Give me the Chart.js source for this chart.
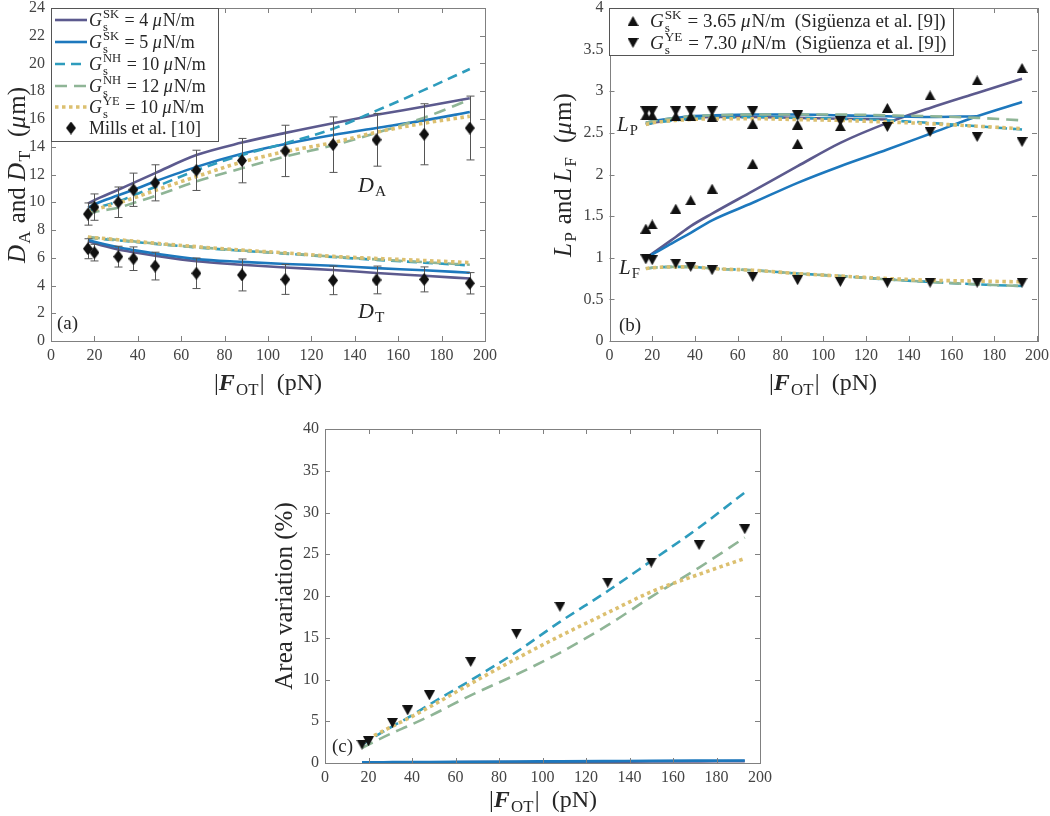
<!DOCTYPE html>
<html><head><meta charset="utf-8">
<script src="https://cdn.jsdelivr.net/npm/chart.js@4.4.0/dist/chart.umd.min.js"></script>
<style>
html,body{margin:0;padding:0;background:#fff;}
#wrap{position:relative;width:1050px;height:816px;overflow:hidden;background:#fff;}
canvas{position:absolute;left:0;top:0;}
</style></head><body>
<div id="wrap">
<canvas id="ca" width="1050" height="816"></canvas>
<canvas id="cb" width="1050" height="816"></canvas>
<canvas id="cc" width="1050" height="816"></canvas>
</div>
<script>
// ---------- data ----------
const forces = [17, 20, 31, 38, 48, 67, 88, 108, 130, 150, 172, 193];

// (a) axial / transverse diameters (um)
const millsDA    = [9.15, 9.65, 10.0, 10.9, 11.4, 12.3, 13.0, 13.7, 14.15, 14.5, 14.9, 15.35];
const millsDAerr = [0.8, 0.95, 1.1, 1.2, 1.3, 1.45, 1.6, 1.85, 2.0, 1.9, 2.2, 2.3];
const millsDT    = [6.65, 6.37, 6.08, 5.93, 5.4, 4.88, 4.76, 4.44, 4.37, 4.4, 4.44, 4.16];
const millsDTerr = [0.72, 0.6, 0.75, 0.85, 1.0, 1.1, 1.15, 1.08, 1.03, 1.0, 0.9, 0.77];
const daSK4  = [9.9, 10.15, 10.9, 11.4, 12.1, 13.4, 14.3, 15.0, 15.7, 16.3, 16.9, 17.5];
const daSK5  = [9.6, 9.85, 10.5, 10.9, 11.5, 12.55, 13.5, 14.2, 14.85, 15.35, 15.9, 16.5];
const daNH10 = [9.35, 9.55, 10.05, 10.5, 11.1, 12.3, 13.4, 14.25, 15.3, 16.6, 18.1, 19.6];
const daNH12 = [9.15, 9.3, 9.6, 9.95, 10.45, 11.5, 12.45, 13.3, 14.1, 15.0, 16.1, 17.4];
const daYE10 = [9.3, 9.45, 9.95, 10.3, 10.85, 11.85, 12.9, 13.65, 14.3, 15.05, 15.7, 16.2];
const dtSK4  = [7.2, 7.05, 6.6, 6.4, 6.15, 5.75, 5.5, 5.3, 5.12, 4.9, 4.7, 4.5];
const dtSK5  = [7.28, 7.15, 6.75, 6.55, 6.3, 5.9, 5.7, 5.55, 5.42, 5.25, 5.1, 4.92];
const dtNH10 = [7.45, 7.4, 7.25, 7.15, 7.0, 6.75, 6.5, 6.3, 6.05, 5.85, 5.65, 5.45];
const dtNH12 = [7.5, 7.45, 7.28, 7.18, 7.02, 6.77, 6.52, 6.32, 6.08, 5.88, 5.68, 5.5];
const dtYE10 = [7.5, 7.45, 7.3, 7.2, 7.05, 6.8, 6.55, 6.35, 6.1, 5.95, 5.8, 5.65];

// (b) lengths LP and LF (um)
const sigSK_LP = [2.71, 2.71, 2.70, 2.70, 2.69, 2.61, 2.60, 2.58, null, null, null, null];
const sigSK_LF = [1.35, 1.40, 1.59, 1.69, 1.83, 2.13, 2.37, null, 2.80, 2.95, 3.13, 3.28];
const sigYE_LP = [2.76, 2.76, 2.76, 2.76, 2.76, 2.76, 2.71, 2.64, 2.57, 2.51, 2.45, 2.39];
const sigYE_LF = [0.98, 0.97, 0.93, 0.89, 0.85, 0.77, 0.73, 0.71, 0.70, 0.70, 0.70, 0.70];
const lpSK4  = [2.60, 2.62, 2.66, 2.68, 2.69, 2.69, 2.68, 2.67, 2.66, null, null, null];
const lpSK5  = [2.62, 2.64, 2.68, 2.70, 2.71, 2.72, 2.72, 2.71, 2.70, 2.69, 2.70, null];
const lpNH10 = [2.60, 2.62, 2.65, 2.67, 2.68, 2.69, 2.68, 2.67, 2.65, 2.62, 2.58, 2.54];
const lpNH12 = [2.62, 2.64, 2.68, 2.70, 2.71, 2.72, 2.72, 2.72, 2.71, 2.70, 2.68, 2.65];
const lpYE10 = [2.60, 2.62, 2.65, 2.66, 2.67, 2.67, 2.66, 2.65, 2.63, 2.61, 2.58, 2.55];
const lfSK4  = [1.0, 1.05, 1.25, 1.38, 1.53, 1.80, 2.10, 2.38, 2.62, 2.80, 2.98, 3.15];
const lfSK5  = [1.0, 1.04, 1.20, 1.30, 1.45, 1.66, 1.90, 2.10, 2.30, 2.49, 2.70, 2.87];
const lfNH10 = [0.87, 0.88, 0.89, 0.89, 0.87, 0.85, 0.81, 0.78, 0.74, 0.71, 0.68, 0.66];
const lfNH12 = [0.87, 0.88, 0.89, 0.89, 0.87, 0.85, 0.81, 0.78, 0.74, 0.71, 0.68, 0.66];
const lfYE10 = [0.87, 0.88, 0.89, 0.89, 0.87, 0.85, 0.81, 0.78, 0.75, 0.73, 0.72, 0.71];

// (c) area variation (%)
const sigYE_area = [2.2, 2.6, 4.8, 6.3, 8.1, 12.1, 15.5, 18.7, 21.6, 24.0, 26.1, 28.0];
const areaSK4  = [0.05, 0.05, 0.06, 0.07, 0.08, 0.10, 0.12, 0.14, 0.16, 0.18, 0.20, 0.22];
const areaSK5  = [0.08, 0.08, 0.10, 0.11, 0.12, 0.15, 0.18, 0.20, 0.23, 0.26, 0.28, 0.30];
const areaNH10 = [2.2, 2.7, 4.4, 5.4, 7.0, 9.9, 13.3, 16.9, 20.6, 24.2, 28.2, 32.4];
const areaNH12 = [1.8, 2.2, 3.6, 4.4, 5.6, 8.1, 10.6, 13.2, 16.5, 19.9, 23.4, 27.0];
const areaYE10 = [2.4, 2.9, 4.4, 5.3, 6.7, 9.5, 12.5, 15.2, 18.0, 20.5, 22.6, 24.5];

// axis ranges / ticks
const xTicks = [0, 200, 20];
const yTicksA = [0, 24, 2];
const yTicksB = [0, 4, 0.5];
const yTicksC = [0, 40, 5];

// ---------- styling ----------
const FAM = "'Liberation Serif','Times New Roman',serif";
const W = 1050, H = 816, YW = 50, XH = 30, TL = 5;
const AXC = '#808080', TICKC = '#444', TXT = '#262626';
const STY = {
  sk4:  {borderColor: '#5c5a8e', borderWidth: 2.6},
  sk5:  {borderColor: '#1d78bd', borderWidth: 2.6},
  nh10: {borderColor: '#2e9cbd', borderWidth: 2.6, borderDash: [10, 6]},
  nh12: {borderColor: '#8fb596', borderWidth: 2.6, borderDash: [12, 7]},
  ye10: {borderColor: '#dcc070', borderWidth: 3.6, borderDash: [3.5, 3.5]}
};
function mk(w, h, fn) { const c = document.createElement('canvas'); c.width = w; c.height = h; const g = c.getContext('2d'); g.fillStyle = '#111'; g.beginPath(); fn(g, w, h); g.closePath(); g.fill(); return c; }
const DIAM = mk(10, 13, (g, w, h) => { g.moveTo(w/2, 0); g.lineTo(w, h/2); g.lineTo(w/2, h); g.lineTo(0, h/2); });
const TUP = mk(11, 10, (g, w, h) => { g.moveTo(w/2, 0); g.lineTo(w, h); g.lineTo(0, h); });
const TDN = mk(11, 10, (g, w, h) => { g.moveTo(0, 0); g.lineTo(w, 0); g.lineTo(w/2, h); });

const pts = arr => forces.map((x, i) => ({x, y: arr[i]}));
const line = (arr, s) => Object.assign({data: pts(arr), pointRadius: 0, fill: false, tension: 0.4,
  cubicInterpolationMode: 'monotone', borderCapStyle: 'butt', spanGaps: false}, s);
const marks = (arr, img) => ({data: pts(arr), showLine: false, pointStyle: img, pointRadius: 5, borderWidth: 0, backgroundColor: '#111'});

// ---------- rich text ----------
function rich(ctx, parts, x, y, size, align, color) {
  const sm = size * 0.7;
  const fnt = (st, s) => `${st}${s}px ${FAM}`;
  const items = parts.map(p => {
    if (typeof p === 'string') p = {t: p};
    if (p.t !== undefined) {
      const st = p.bi ? 'italic bold ' : (p.i ? 'italic ' : '');
      ctx.font = fnt(st, size);
      return Object.assign({}, p, {st, w: ctx.measureText(p.t).width + (p.i || p.bi ? size * 0.05 : 0)});
    }
    ctx.font = fnt('', sm);
    const w = Math.max(p.sub ? ctx.measureText(p.sub).width : 0, p.sup ? ctx.measureText(p.sup).width : 0);
    return Object.assign({}, p, {w: w + size * 0.06});
  });
  const tot = items.reduce((s, it) => s + it.w, 0);
  let cx = align === 'center' ? x - tot / 2 : (align === 'right' ? x - tot : x);
  ctx.save();
  ctx.fillStyle = color || TXT; ctx.textAlign = 'left'; ctx.textBaseline = 'alphabetic';
  for (const it of items) {
    if (it.t !== undefined) { ctx.font = fnt(it.st, size); ctx.fillText(it.t, cx, y); }
    else {
      ctx.font = fnt('', sm);
      if (it.sup) ctx.fillText(it.sup, cx, y - size * 0.42);
      if (it.sub) ctx.fillText(it.sub, cx, y + size * (it.sup ? 0.27 : 0.2));
    }
    cx += it.w;
  }
  ctx.restore();
  return tot;
}
function richRot(ctx, parts, cx, cy, size) {
  ctx.save(); ctx.translate(cx, cy); ctx.rotate(-Math.PI / 2);
  rich(ctx, parts, 0, size * 0.33, size, 'center'); ctx.restore();
}
const FOT = ['|', {t: 'F', bi: 1}, {sub: 'OT'}, '|  (pN)'];
const Gs = (sup) => [{t: 'G', i: 1}, {sub: 's', sup}];

// ---------- chart factory ----------
function makeChart(id, area, yr, datasets, extra) {
  const frame = {
    id: 'frame',
    beforeDatasetDraw(chart, args) { if (extra.beforeSet) extra.beforeSet(chart, args); },
    afterDatasetsDraw(chart) {
      const {ctx, chartArea: a, scales: {x, y}} = chart;
      ctx.save();
      ctx.strokeStyle = AXC; ctx.lineWidth = 1; ctx.setLineDash([]);
      ctx.beginPath();
      x.ticks.forEach(t => { const p = Math.round(x.getPixelForValue(t.value)) + 0.5;
        ctx.moveTo(p, a.bottom); ctx.lineTo(p, a.bottom - TL); ctx.moveTo(p, a.top); ctx.lineTo(p, a.top + TL); });
      y.ticks.forEach(t => { const p = Math.round(y.getPixelForValue(t.value)) + 0.5;
        ctx.moveTo(a.left, p); ctx.lineTo(a.left + TL, p); ctx.moveTo(a.right, p); ctx.lineTo(a.right - TL, p); });
      ctx.stroke();
      ctx.strokeRect(Math.round(a.left) + 0.5, Math.round(a.top) + 0.5, Math.round(a.right - a.left), Math.round(a.bottom - a.top));
      ctx.restore();
      if (extra.draw) extra.draw(chart);
    }
  };
  const tickFont = {family: FAM, size: 16, lineHeight: 1};
  return new Chart(document.getElementById(id), {
    type: 'line',
    data: {datasets},
    options: {
      responsive: false, animation: false, events: [],
      layout: {padding: {left: area.l - YW, top: area.t, right: W - area.r, bottom: H - area.b - XH}},
      plugins: {legend: {display: false}, tooltip: {enabled: false}},
      scales: {
        x: {type: 'linear', min: xTicks[0], max: xTicks[1],
          ticks: {stepSize: xTicks[2], font: tickFont, color: TICKC, padding: 7, maxRotation: 0, autoSkip: false, callback: v => String(v)},
          grid: {display: false, drawTicks: false}, border: {display: false},
          afterFit(s) { s.height = XH; s.paddingLeft = 0; s.paddingRight = 0; }},
        y: {type: 'linear', min: yr[0], max: yr[1],
          ticks: {stepSize: yr[2], font: tickFont, color: TICKC, padding: 6, autoSkip: false, callback: v => String(v)},
          grid: {display: false, drawTicks: false}, border: {display: false},
          afterFit(s) { s.width = YW; s.paddingTop = 0; s.paddingBottom = 0; }}
      }
    },
    plugins: [frame]
  });
}

function legendLine(ctx, s, x1, x2, y) {
  ctx.save(); ctx.strokeStyle = s.borderColor; ctx.lineWidth = s.borderWidth; ctx.lineCap = 'butt';
  ctx.setLineDash(s.borderDash || []); ctx.beginPath(); ctx.moveTo(x1, y); ctx.lineTo(x2, y); ctx.stroke(); ctx.restore();
}
function legendBox(ctx, x, y, w, h) {
  ctx.save(); ctx.fillStyle = '#fff'; ctx.fillRect(x, y, w, h);
  ctx.strokeStyle = '#555'; ctx.lineWidth = 1; ctx.strokeRect(x + 0.5, y + 0.5, w, h); ctx.restore();
}
function errBars(chart, vals, errs) {
  const {ctx, scales: {x, y}} = chart;
  ctx.save(); ctx.strokeStyle = '#555'; ctx.lineWidth = 1; ctx.beginPath();
  forces.forEach((f, i) => {
    const px = Math.round(x.getPixelForValue(f)) + 0.5;
    const t = y.getPixelForValue(vals[i] + errs[i]), b = y.getPixelForValue(vals[i] - errs[i]);
    ctx.moveTo(px, t); ctx.lineTo(px, b);
    ctx.moveTo(px - 4, t); ctx.lineTo(px + 4, t);
    ctx.moveTo(px - 4, b); ctx.lineTo(px + 4, b);
  });
  ctx.stroke(); ctx.restore();
}

// ---------- panel (a) ----------
makeChart('ca', {l: 51, r: 485, t: 8, b: 341}, yTicksA, [
  marks(millsDA, DIAM), marks(millsDT, DIAM),
  line(daYE10, STY.ye10), line(dtYE10, STY.ye10),
  line(daNH12, STY.nh12), line(dtNH12, STY.nh12),
  line(daNH10, STY.nh10), line(dtNH10, STY.nh10),
  line(daSK5, STY.sk5), line(dtSK5, STY.sk5),
  line(daSK4, STY.sk4), line(dtSK4, STY.sk4)
], {
  beforeSet(chart, args) {
    if (args.index === 0) errBars(chart, millsDA, millsDAerr);
    if (args.index === 1) errBars(chart, millsDT, millsDTerr);
  },
  draw(chart) {
    const ctx = chart.ctx;
    legendBox(ctx, 51, 8, 167, 133);
    const rows = [
      [STY.sk4, [...Gs('SK'), ' = 4 ', {t: 'μ', i: 1}, 'N/m']],
      [STY.sk5, [...Gs('SK'), ' = 5 ', {t: 'μ', i: 1}, 'N/m']],
      [STY.nh10, [...Gs('NH'), ' = 10 ', {t: 'μ', i: 1}, 'N/m']],
      [STY.nh12, [...Gs('NH'), ' = 12 ', {t: 'μ', i: 1}, 'N/m']],
      [STY.ye10, [...Gs('YE'), ' = 10 ', {t: 'μ', i: 1}, 'N/m']]
    ];
    const ys = [20, 42, 64, 86, 107, 128];
    rows.forEach((r, i) => { legendLine(ctx, r[0], 55, 87, ys[i]); rich(ctx, r[1], 89, ys[i] + 6, 18, 'left'); });
    ctx.drawImage(DIAM, 71 - 5, ys[5] - 6.5);
    rich(ctx, ['Mills et al. [10]'], 89, ys[5] + 6, 18, 'left');
    rich(ctx, ['(a)'], 57, 329, 19, 'left');
    rich(ctx, [{t: 'D', i: 1}, {sub: 'A'}], 358, 192, 22, 'left');
    rich(ctx, [{t: 'D', i: 1}, {sub: 'T'}], 358, 318, 22, 'left');
    rich(ctx, FOT, 268, 390, 24, 'center');
    richRot(ctx, [{t: 'D', i: 1}, {sub: 'A'}, ' and ', {t: 'D', i: 1}, {sub: 'T'}, '  (', {t: 'μ', i: 1}, 'm)'], 17, 175, 25);
  }
});

// ---------- panel (b) ----------
makeChart('cb', {l: 609.5, r: 1037, t: 8, b: 341}, yTicksB, [
  marks(sigYE_LP, TDN), marks(sigYE_LF, TDN), marks(sigSK_LP, TUP), marks(sigSK_LF, TUP),
  line(lpYE10, STY.ye10), line(lfYE10, STY.ye10),
  line(lpNH12, STY.nh12), line(lfNH12, STY.nh12),
  line(lpNH10, STY.nh10), line(lfNH10, STY.nh10),
  line(lpSK5, STY.sk5), line(lfSK5, STY.sk5),
  line(lpSK4, STY.sk4), line(lfSK4, STY.sk4)
], {
  draw(chart) {
    const ctx = chart.ctx;
    legendBox(ctx, 609, 8, 344, 47);
    ctx.drawImage(TUP, 633 - 5.5, 21 - 5);
    ctx.drawImage(TDN, 633 - 5.5, 43 - 5);
    rich(ctx, [...Gs('SK'), ' = 3.65 ', {t: 'μ', i: 1}, 'N/m  (Sigüenza et al. [9])'], 650, 27, 19, 'left');
    rich(ctx, [...Gs('YE'), ' = 7.30 ', {t: 'μ', i: 1}, 'N/m  (Sigüenza et al. [9])'], 650, 49, 19, 'left');
    rich(ctx, ['(b)'], 619, 331, 19, 'left');
    rich(ctx, [{t: 'L', i: 1}, {sub: 'P'}], 617, 131, 21, 'left');
    rich(ctx, [{t: 'L', i: 1}, {sub: 'F'}], 619, 274, 21, 'left');
    rich(ctx, FOT, 823, 390, 24, 'center');
    richRot(ctx, [{t: 'L', i: 1}, {sub: 'P'}, ' and ', {t: 'L', i: 1}, {sub: 'F'}, '  (', {t: 'μ', i: 1}, 'm)'], 563, 175, 25);
  }
});

// ---------- panel (c) ----------
makeChart('cc', {l: 325, r: 760, t: 429, b: 763}, yTicksC, [
  marks(sigYE_area, TDN),
  line(areaYE10, STY.ye10), line(areaNH12, STY.nh12), line(areaNH10, STY.nh10),
  line(areaSK5, STY.sk5), line(areaSK4, STY.sk4)
], {
  draw(chart) {
    const ctx = chart.ctx;
    rich(ctx, ['(c)'], 332, 752, 19, 'left');
    rich(ctx, FOT, 543, 807, 24, 'center');
    richRot(ctx, ['Area variation (%)'], 284, 596, 25);
  }
});
</script>
</body></html>
